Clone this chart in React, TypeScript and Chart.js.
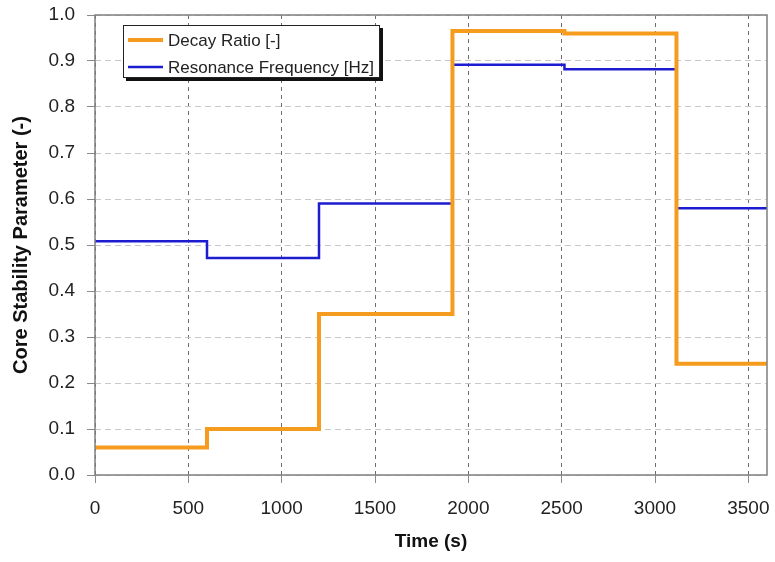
import React, { useEffect, useRef } from "react";
import { Chart, registerables } from "chart.js";

Chart.register(...registerables);

// Time at which each operating period begins (s); last entry closes the final period
const times = [0, 600, 1200, 1915, 2515, 3115, 3600];
// Decay ratio [-] held over each period
const decayRatio = [0.06, 0.1, 0.35, 0.965, 0.96, 0.242, 0.242];
// Resonance frequency [Hz] held over each period
const resonanceFreq = [0.508, 0.472, 0.59, 0.892, 0.882, 0.58, 0.58];

// Axis tick values
const xTicks = [0, 500, 1000, 1500, 2000, 2500, 3000, 3500];
const yTicks = [0, 0.1, 0.2, 0.3, 0.4, 0.5, 0.6, 0.7, 0.8, 0.9, 1.0];

const seriesNames = ["Decay Ratio [-]", "Resonance Frequency [Hz]"];
const seriesColors = ["#F59C1E", "#1C1CD0"];
const seriesWidths = [4, 2.5];

const xTitle = "Time (s)";
const yTitle = "Core Stability Parameter (-)";

const FONT = "'Liberation Sans', Arial, sans-serif";

const framePlugin = {
  id: "frame",
  afterDatasetsDraw(chart: any) {
    const { ctx, chartArea: a } = chart;
    ctx.save();
    ctx.strokeStyle = "#7f7f7f";
    ctx.lineWidth = 1.5;
    ctx.strokeRect(a.left, a.top, a.right - a.left, a.bottom - a.top);
    ctx.restore();
  },
};

const legendBoxPlugin = {
  id: "legendBox",
  afterDraw(chart: any) {
    const { ctx, chartArea: a } = chart;
    const x = a.left + 28;
    const y = a.top + 10;
    const w = 257;
    const h = 53;
    ctx.save();
    // drop shadow
    ctx.fillStyle = "#111";
    ctx.fillRect(x + 3, y + 3, w, h);
    ctx.fillStyle = "#fff";
    ctx.fillRect(x, y, w, h);
    ctx.strokeStyle = "#222";
    ctx.lineWidth = 1;
    ctx.strokeRect(x + 0.5, y + 0.5, w - 1, h - 1);
    const rows = [y + 15, y + 42];
    ctx.font = `17px ${FONT}`;
    ctx.textBaseline = "middle";
    ctx.textAlign = "left";
    rows.forEach((ry, i) => {
      ctx.strokeStyle = seriesColors[i];
      ctx.lineWidth = seriesWidths[i];
      ctx.beginPath();
      ctx.moveTo(x + 5, ry);
      ctx.lineTo(x + 40, ry);
      ctx.stroke();
      ctx.fillStyle = "#222";
      ctx.fillText(seriesNames[i], x + 45, ry + 1);
    });
    ctx.restore();
  },
};

export default function App() {
  const ref = useRef<HTMLCanvasElement | null>(null);

  useEffect(() => {
    if (!ref.current) return;
    const mk = (vals: number[]) => times.map((t, i) => ({ x: t, y: vals[i] }));
    const chart = new Chart(ref.current, {
      type: "line",
      data: {
        datasets: [
          {
            label: seriesNames[0],
            data: mk(decayRatio),
            borderColor: seriesColors[0],
            borderWidth: seriesWidths[0],
            stepped: "before",
            pointRadius: 0,
            fill: false,
          },
          {
            label: seriesNames[1],
            data: mk(resonanceFreq),
            borderColor: seriesColors[1],
            borderWidth: seriesWidths[1],
            stepped: "before",
            pointRadius: 0,
            fill: false,
          },
        ],
      },
      options: {
        animation: false,
        responsive: false,
        layout: { padding: { top: 15, right: 8, left: 0, bottom: 0 } },
        plugins: {
          legend: { display: false },
          tooltip: { enabled: false },
        },
        scales: {
          x: {
            type: "linear",
            min: 0,
            max: 3600,
            afterBuildTicks: (s: any) => {
              s.ticks = xTicks.map((v) => ({ value: v }));
            },
            afterFit: (s: any) => {
              s.height = 87;
              s.paddingLeft = 0;
              s.paddingRight = 0;
            },
            ticks: {
              autoSkip: false,
              maxRotation: 0,
              padding: 14,
              color: "#222",
              font: { family: FONT, size: 19 },
              callback: (v: any) => String(v),
            },
            grid: {
              color: "#6e6e6e",
              lineWidth: 1,
              tickLength: 8,
              tickColor: "#8a8a8a",
              tickBorderDash: [],
            },
            border: { display: false, dash: [4, 4] },
            title: {
              display: true,
              text: xTitle,
              color: "#111",
              font: { family: FONT, size: 19, weight: "bold" },
              padding: { top: 0, bottom: 9 },
            },
          },
          y: {
            type: "linear",
            min: 0,
            max: 1,
            afterBuildTicks: (s: any) => {
              s.ticks = yTicks.map((v) => ({ value: v }));
            },
            afterFit: (s: any) => {
              s.width = 95;
              s.paddingTop = 0;
              s.paddingBottom = 0;
            },
            ticks: {
              padding: 12,
              color: "#222",
              font: { family: FONT, size: 19 },
              callback: (v: any) => Number(v).toFixed(1),
            },
            grid: {
              color: "#c8c8c8",
              lineWidth: 1,
              tickLength: 8,
              tickColor: "#8a8a8a",
              tickBorderDash: [],
            },
            border: { display: false, dash: [6, 4] },
            title: {
              display: true,
              text: yTitle,
              color: "#111",
              font: { family: FONT, size: 20, weight: "bold" },
              padding: { top: 9, bottom: 0 },
            },
          },
        },
      },
      plugins: [framePlugin, legendBoxPlugin],
    });
    return () => chart.destroy();
  }, []);

  return (
    <div style={{ position: "fixed", left: 0, top: 0, width: 775, height: 562, background: "#fff" }}>
      <canvas ref={ref} width={775} height={562} />
    </div>
  );
}
